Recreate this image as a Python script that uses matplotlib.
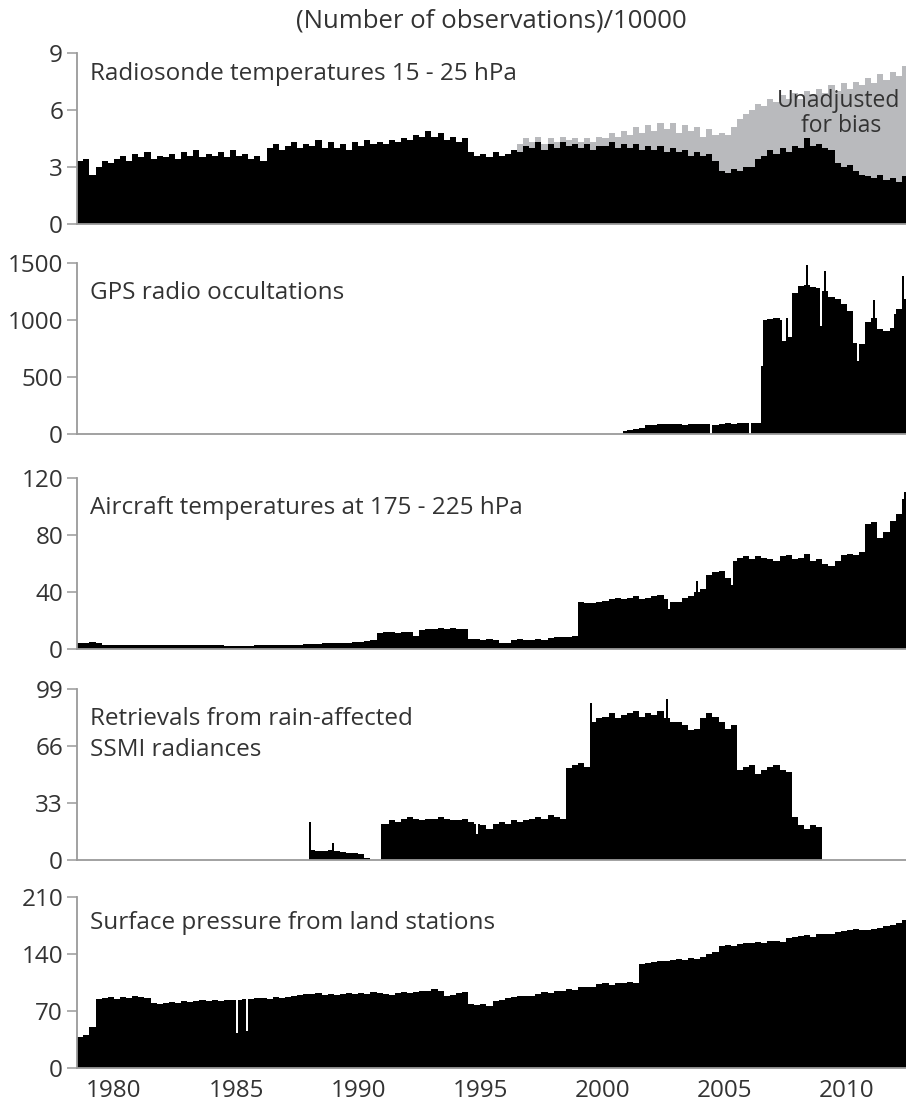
import numpy as np
import matplotlib
matplotlib.use("Agg")
import matplotlib.pyplot as plt

# ---------------- data (quarterly values) ----------------
radiosonde_start = 1978.5
radiosonde_adjusted = [
    3.3, 3.4,
    2.6, 3.0, 3.3, 3.2,   # 1979
    3.4, 3.6, 3.3, 3.7,   # 1980
    3.5, 3.8, 3.4, 3.6,
    3.5, 3.7, 3.4, 3.8,
    3.6, 3.9, 3.5, 3.7,
    3.6, 3.8, 3.5, 3.9,
    3.6, 3.7, 3.4, 3.6,   # 1985
    3.3, 4.0, 4.2, 3.9,
    4.1, 4.3, 4.0, 4.2,
    4.1, 4.4, 4.0, 4.3,
    4.0, 4.2, 3.9, 4.3,
    4.1, 4.4, 4.2, 4.3,   # 1990
    4.2, 4.4, 4.3, 4.5,
    4.4, 4.7, 4.6, 4.9,
    4.6, 4.8, 4.4, 4.6,
    4.3, 4.5, 3.8, 3.6,
    3.7, 3.5, 3.8, 3.6,   # 1995
    3.7, 3.9, 3.8, 4.1,
    4.0, 4.3, 3.9, 4.2,
    4.0, 4.3, 4.1, 4.2,
    4.0, 4.2, 3.9, 4.1,
    4.1, 4.3, 4.0, 4.2,   # 2000
    4.0, 4.2, 3.9, 4.1,
    3.9, 4.1, 3.8, 4.0,
    3.8, 3.9, 3.6, 3.8,
    3.6, 3.7, 3.3, 2.8,
    2.7, 2.9, 2.8, 3.0,   # 2005
    3.0, 3.4, 3.6, 3.9,
    3.7, 4.0, 3.8, 4.1,
    4.0, 4.5, 4.1, 4.2,
    4.0, 3.9, 3.2, 3.0,
    3.1, 2.8, 2.6, 2.5,   # 2010
    2.4, 2.6, 2.3, 2.4,
    2.2, 2.5,
]

unadjusted_start = 1996.5
radiosonde_unadjusted = [
    4.2, 4.5,
    4.3, 4.6, 4.2, 4.5,   # 1997
    4.3, 4.6, 4.4, 4.5,
    4.3, 4.5, 4.3, 4.6,
    4.5, 4.8, 4.6, 4.9,   # 2000
    4.7, 5.1, 4.8, 5.2,
    4.9, 5.3, 5.0, 5.3,
    4.8, 5.2, 4.9, 5.1,
    4.6, 5.0, 4.7, 4.8,
    4.7, 5.1, 5.5, 5.8,   # 2005
    6.0, 6.3, 6.2, 6.6,
    6.4, 6.8, 6.6, 6.9,
    6.6, 7.0, 6.8, 7.1,
    6.9, 7.3, 7.0, 7.4,
    7.1, 7.5, 7.3, 7.7,   # 2010
    7.4, 7.9, 7.6, 8.0,
    7.8, 8.3,
]

gps_start = 2000.75
gps_occultations = [
    30,
    35, 45, 55, 78,       # 2001
    82, 85, 86, 84,
    85, 82, 86, 84,
    84, 86, 80, 92,
    95, 92, 97, 94,       # 2005
    98, 100, 1000, 1010,
    1020, 820, 850, 1240,
    1300, 1310, 1290, 1280,
    1250, 1200, 1180, 1140,
    1080, 800, 790, 980,  # 2010
    1020, 920, 900, 930,
    1100, 1180,
]
gps_month_years = [2000.75, 2004.42, 2006.0, 2006.5, 2007.25, 2007.5, 2008.33,
                   2008.92, 2009.08, 2010.42, 2011.08, 2011.92, 2012.25]
gps_month_values = [0, 0, 0, 600, 1000, 1020, 1485, 950, 1430, 643, 1175, 1050, 1390]

aircraft_start = 1978.5
aircraft_temps = [
    4, 4,
    5, 4, 3, 3,           # 1979
    3, 3, 3, 3,
    3, 3, 3, 2.5,
    3, 3, 3, 3,
    2.5, 3, 2.5, 2.5,
    2.5, 2.5, 2, 2,
    2, 2, 2, 2.5,         # 1985
    2.5, 3, 2.5, 3,
    3, 3, 3, 3.5,
    3.5, 3.5, 4, 4,
    4.5, 4.5, 4.5, 5,
    5, 5.5, 6, 11,        # 1990
    12, 12, 11, 12,
    12, 9, 13, 14,
    14, 15, 14, 15,
    14, 14, 7, 7,
    6.5, 7, 6.5, 4,       # 1995
    4, 6.5, 7, 6.5,
    6.5, 7, 6.5, 8,
    8.5, 8.5, 8.5, 9,
    33, 32, 32, 33,
    34, 35, 36, 35,       # 2000
    36, 37, 35, 36,
    37, 38, 35, 33,
    33, 36, 37, 40,
    42, 52, 54, 55,
    50, 62, 64, 65,       # 2005
    63, 65, 64, 63,
    62, 65, 66, 63,
    64, 67, 62, 63,
    60, 58, 62, 66,
    67, 66, 68, 88,       # 2010
    89, 78, 82, 90,
    95, 105,
]
aircraft_month_years = [2002.67, 2003.83, 2005.25, 2012.33]
aircraft_month_values = [28, 48, 45, 110]

ssmi_start = 1988.0
ssmi_retrievals = [
    6, 5, 5, 6,           # 1988
    5, 4.5, 4, 4,
    3.5, 1, 0, 0,         # 1990
    21, 23, 22, 24,
    25, 24, 23, 24,
    24, 25, 24, 23,
    23, 24, 22, 21,
    20, 18, 21, 22,       # 1995
    21, 23, 22, 23,
    24, 25, 24, 26,
    25, 24, 53, 55,
    56, 54, 80, 82,
    83, 85, 82, 84,       # 2000
    85, 86, 83, 85,
    84, 86, 82, 80,
    80, 78, 75, 76,
    82, 85, 83, 80,
    76, 78, 52, 54,       # 2005
    55, 50, 52, 54,
    55, 52, 51, 25,
    20, 18, 20, 19,
]
ssmi_month_years = [1988.0, 1988.92, 1990.92, 1994.83, 1999.5, 2002.58]
ssmi_month_values = [22, 10, 21, 15, 91, 93]

surface_start = 1978.5
surface_pressure = [
    38, 40,
    50, 85, 86, 87,       # 1979
    85, 87, 86, 88,
    87, 86, 80, 79,
    80, 81, 80, 82,
    81, 82, 83, 82,
    83, 82, 84, 83,
    84, 85, 85, 86,       # 1985
    86, 85, 87, 86,
    87, 88, 90, 91,
    91, 92, 90, 91,
    90, 91, 92, 91,
    92, 91, 93, 92,       # 1990
    91, 90, 92, 93,
    92, 93, 94, 95,
    97, 94, 88, 90,
    92, 93, 78, 77,
    79, 76, 82, 84,       # 1995
    86, 87, 88, 89,
    88, 91, 93, 92,
    94, 95, 97, 96,
    99, 100, 99, 103,
    104, 102, 105, 104,   # 2000
    106, 105, 128, 129,
    130, 131, 132, 133,
    134, 133, 135, 134,
    136, 140, 143, 150,
    151, 150, 152, 153,   # 2005
    154, 155, 154, 156,
    156, 155, 160, 161,
    162, 163, 161, 164,
    164, 165, 167, 168,
    170, 171, 169, 170,   # 2010
    171, 172, 174, 176,
    178, 182,
]
surface_month_years = [1985.0, 1985.42, 2012.42]
surface_month_values = [43, 45, 186]

panel_labels = [
    "Radiosonde temperatures 15 - 25 hPa",
    "GPS radio occultations",
    "Aircraft temperatures at 175 - 225 hPa",
    "Retrievals from rain-affected\nSSMI radiances",
    "Surface pressure from land stations",
]
yticks_list = [[0, 3, 6, 9], [0, 500, 1000, 1500], [0, 40, 80, 120],
               [0, 33, 66, 99], [0, 70, 140, 210]]
xticks = [1980, 1985, 1990, 1995, 2000, 2005, 2010]
title = "(Number of observations)/10000"
annotation = "Unadjusted\nfor bias"


def monthly(quarterly, start, m_years=(), m_values=()):
    vals = np.repeat(np.asarray(quarterly, dtype=float), 3)
    for yy, vv in zip(m_years, m_values):
        i = int(round((yy - start) * 12))
        if 0 <= i < len(vals):
            vals[i] = vv
    edges = start + np.arange(len(vals) + 1) / 12.0
    return vals, edges


# ---------------- figure ----------------
W, H = 906, 1105
fig = plt.figure(figsize=(W / 100, H / 100), dpi=100)
FONT = ["Open Sans", "DejaVu Sans"]
plt.rcParams["font.family"] = FONT

left_px = 77
tops = [53, 263, 478, 689, 897]
zeros = [224, 434, 649, 860, 1068]
x0 = 1978.49
px_per_year = 24.43
x1 = x0 + (W - left_px) / px_per_year

series = [
    [(radiosonde_unadjusted, unadjusted_start, (), (), "#b9babd"),
     (radiosonde_adjusted, radiosonde_start, (), (), "black")],
    [(gps_occultations, gps_start, gps_month_years, gps_month_values, "black")],
    [(aircraft_temps, aircraft_start, aircraft_month_years, aircraft_month_values, "black")],
    [(ssmi_retrievals, ssmi_start, ssmi_month_years, ssmi_month_values, "black")],
    [(surface_pressure, surface_start, surface_month_years, surface_month_values, "black")],
]

spine_col = "#9a9a9a"
text_col = "#333333"
LABEL_FS = 17.5
TICK_FS = 17.5
axes = []
for k in range(5):
    b = 1 - zeros[k] / H
    h = (zeros[k] - tops[k]) / H
    ax = fig.add_axes([left_px / W, b, (W - left_px) / W, h])
    for vals, start, my, mv, col in series[k]:
        v, e = monthly(vals, start, my, mv)
        ax.stairs(v, e, fill=True, color=col, linewidth=0, baseline=0)
    ax.set_xlim(x0, x1)
    ax.set_ylim(0, yticks_list[k][-1])
    ax.set_yticks(yticks_list[k])
    ax.set_yticklabels([str(t) for t in yticks_list[k]])
    for s in ["top", "right"]:
        ax.spines[s].set_visible(False)
    for s in ["left", "bottom"]:
        ax.spines[s].set_color(spine_col)
        ax.spines[s].set_linewidth(1.3)
    ax.tick_params(axis="y", length=7, width=1.1, color=spine_col,
                   labelsize=TICK_FS, labelcolor=text_col, pad=3)
    ax.set_xticks(xticks)
    if k < 4:
        ax.tick_params(axis="x", length=0, labelbottom=False)
    else:
        ax.tick_params(axis="x", length=0, labelsize=TICK_FS, labelcolor=text_col, pad=8)
    ax.set_facecolor("none")
    axes.append(ax)

# panel labels (baselines in pixels)
label_baselines = [80, 299, 514, 725, 929]
for k, txt in enumerate(panel_labels):
    lines = txt.split("\n")
    for j, line in enumerate(lines):
        fig.text(90 / W, 1 - (label_baselines[k] + 31 * j) / H, line,
                 fontsize=LABEL_FS, color=text_col, va="baseline", ha="left")

fig.text(491 / W, 1 - 21 / H, title, fontsize=18.5, color=text_col,
         ha="center", va="center")
ann = annotation.split("\n")
fig.text(839 / W, 1 - 107 / H, ann[0], fontsize=16.5,
         color=text_col, ha="center", va="baseline")
fig.text(841 / W, 1 - 132 / H, ann[1], fontsize=16.5,
         color=text_col, ha="center", va="baseline")

fig.savefig("out.png", dpi=100)
